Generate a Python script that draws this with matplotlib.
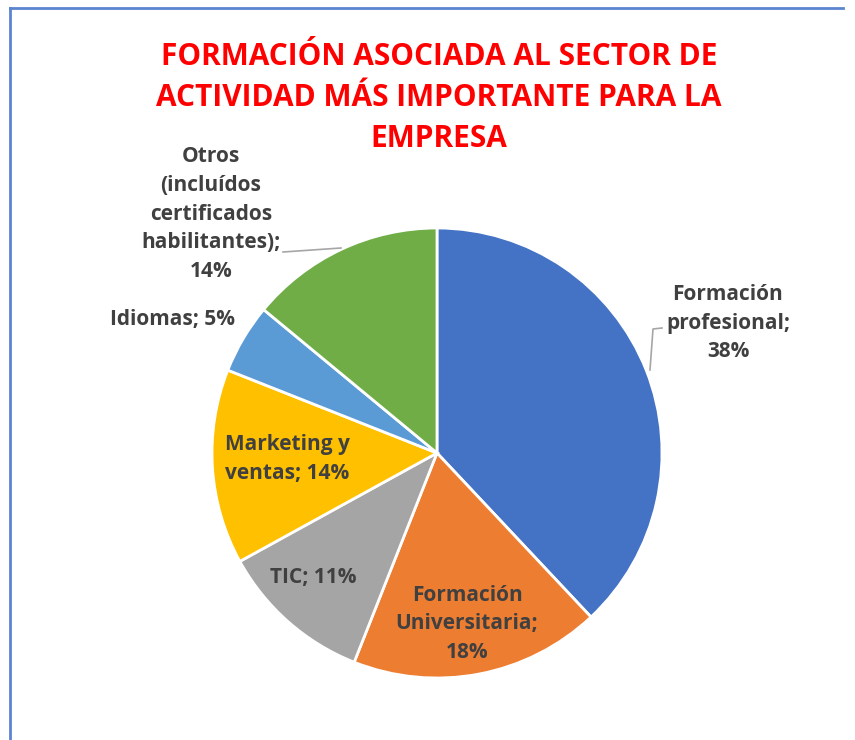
import numpy as np
import matplotlib.pyplot as plt

# datos del grafico
categorias = ["Formación\nprofesional", "Formación\nUniversitaria", "TIC",
              "Marketing y\nventas", "Idiomas",
              "Otros\n(incluídos\ncertificados\nhabilitantes)"]
porcentajes = [38, 18, 11, 14, 5, 14]
colores = ["#4472C4", "#ED7D31", "#A5A5A5", "#FFC000", "#5B9BD5", "#70AD47"]
titulo = "FORMACIÓN ASOCIADA AL SECTOR DE\nACTIVIDAD MÁS IMPORTANTE PARA LA\nEMPRESA"

# posiciones de etiquetas en pixeles (x, y desde arriba)
pos_etiq = [(728, 323), (467, 624), (313, 578), (287, 459), (172, 320), (211, 214)]
sep_etiq = [";\n", ";\n", "; ", "; ", "; ", ";\n"]

W, H = 855, 740
cx, cy, R = 437, 453, 225

plt.rcParams['font.family'] = ['Open Sans', 'DejaVu Sans']

fig = plt.figure(figsize=(W / 100, H / 100), dpi=100)
ax = fig.add_axes([0, 0, 1, 1])

def px(x, y):
    return (x - cx) / R, -(y - cy) / R

ax.pie(porcentajes, colors=colores, startangle=90, counterclock=False,
       radius=1, center=(0, 0), frame=False,
       wedgeprops=dict(edgecolor="white", linewidth=2))
ax.set_xlim(-cx / R, (W - cx) / R)
ax.set_ylim(-(H - cy) / R, cy / R)
ax.set_aspect("equal")
ax.axis("off")

for cat, val, pos, sep in zip(categorias, porcentajes, pos_etiq, sep_etiq):
    x, y = px(*pos)
    ax.text(x, y, cat + sep + str(val) + "%", ha="center", va="center",
            fontsize=15, fontweight="bold", color="#404040", linespacing=1.48)

# lineas guia
gx, gy = zip(px(283, 252), px(341, 248))
ax.plot(gx, gy, color="#A6A6A6", lw=1.2)
gx, gy = zip(px(650, 370), px(653, 329), px(662, 328))
ax.plot(gx, gy, color="#A6A6A6", lw=1.2)

fig.text(439 / W, 1 - 98 / H, titulo, ha="center", va="center", color="#FF0000",
         fontsize=21.5, fontweight="bold", linespacing=1.48)

# borde
fig.add_artist(plt.Line2D([10 / W, 10 / W], [0, 1 - 8 / H], color="#5B85D0", lw=2))
fig.add_artist(plt.Line2D([10 / W, 843 / W], [1 - 8 / H, 1 - 8 / H], color="#5B85D0", lw=2))

fig.savefig("out.png", dpi=100, facecolor="white")
